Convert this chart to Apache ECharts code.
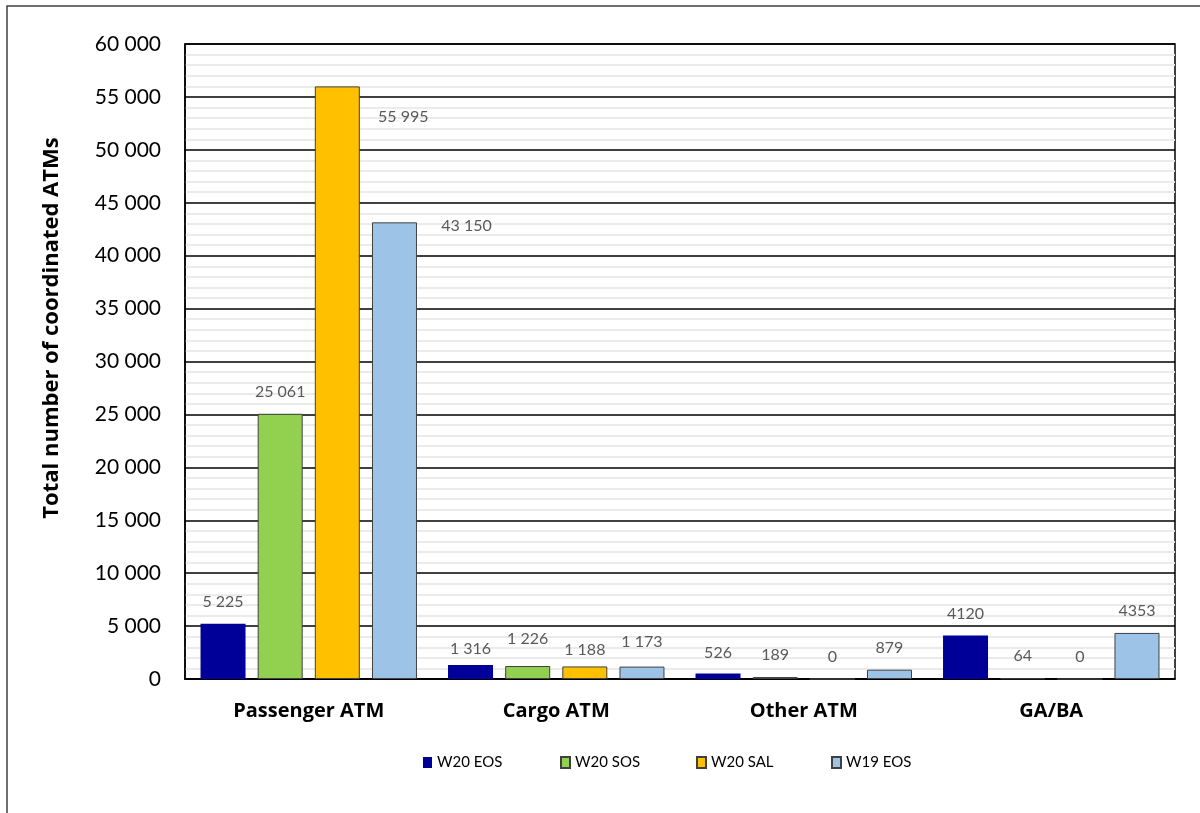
<!DOCTYPE html>
<html>
<head>
<meta charset="utf-8">
<script src="https://cdn.jsdelivr.net/npm/echarts@6/dist/echarts.min.js"></script>
<style>
  html, body { margin: 0; padding: 0; background: #fff; }
  #chart { width: 1200px; height: 813px; }
</style>
</head>
<body>
<div id="chart"></div>
<script>
// Coordinated air traffic movements per traffic type
const categories = ['Passenger ATM', 'Cargo ATM', 'Other ATM', 'GA/BA'];
const seriesNames = ['W20 EOS', 'W20 SOS', 'W20 SAL', 'W19 EOS'];
const w20Eos = [5225, 1316, 526, 4120];
const w20Sos = [25061, 1226, 189, 64];
const w20Sal = [55995, 1188, 0, 0];
const w19Eos = [43150, 1173, 879, 4353];
const yTicks = { min: 0, max: 60000, interval: 5000 };

// Label nudges [dx, dy] in pixels, per series and category
const labelNudge = [
  [[0, 0], [0, 6], [0, 1], [0, 0]],
  [[0, 0], [0, -5], [0, 0], [0, 0]],
  [[66, 52], [0, 5], [0, 0], [0, 0]],
  [[72, 26], [0, -3], [0, 0], [0, 0]]
];

const colors = ['#000099', '#92D050', '#FFC000', '#9DC3E6'];
const borders = [0, 1, 1, 1];
const FONT = 'Lato, "Noto Sans", sans-serif';
const BOLD_FONT = '"Open Sans", Lato, sans-serif';

function spaced(v) {
  return String(v).replace(/\B(?=(\d{3})+(?!\d))/g, ' ');
}

const values = [w20Eos, w20Sos, w20Sal, w19Eos];

const series = values.map((arr, s) => ({
  name: seriesNames[s],
  type: 'bar',
  barWidth: 45,
  barGap: '27%',
  itemStyle: {
    color: colors[s],
    borderColor: '#404040',
    borderWidth: borders[s]
  },
  label: {
    show: true,
    position: 'top',
    distance: 14,
    color: '#595959',
    fontFamily: FONT,
    fontSize: 16,
    formatter: p => (p.dataIndex === 3 ? String(p.value) : spaced(p.value))
  },
  data: arr.map((v, i) => ({ value: v, label: { offset: labelNudge[s][i] } }))
}));

const legendLeft = [423, 560, 696, 831];
const legends = seriesNames.map((n, i) => ({
  data: [n],
  left: legendLeft[i],
  top: 755,
  padding: 0,
  icon: 'rect',
  itemWidth: 9,
  itemHeight: 11,
  selectedMode: false,
  textStyle: { fontFamily: FONT, fontSize: 15, color: '#000' }
}));

const chart = echarts.init(document.getElementById('chart'), null, { renderer: 'canvas' });
chart.setOption({
  backgroundColor: '#fff',
  animation: false,
  grid: {
    left: 185, right: 25, top: 44, bottom: 134,
    show: true, borderColor: '#000', borderWidth: 1.5, backgroundColor: 'transparent'
  },
  legend: legends,
  xAxis: {
    type: 'category',
    data: categories,
    axisTick: { show: false },
    axisLine: { lineStyle: { color: '#000', width: 1.5 } },
    axisLabel: {
      margin: 22,
      color: '#000',
      fontFamily: BOLD_FONT,
      fontWeight: 'bold',
      fontSize: 20
    }
  },
  yAxis: {
    type: 'value',
    min: yTicks.min,
    max: yTicks.max,
    interval: yTicks.interval,
    axisLine: { show: true, lineStyle: { color: '#000', width: 1.5 } },
    axisTick: { show: false },
    axisLabel: {
      margin: 24,
      color: '#000',
      fontFamily: FONT,
      fontSize: 21,
      formatter: v => spaced(v)
    },
    splitLine: { lineStyle: { color: '#000', width: 1.5 } },
    minorTick: { show: false, splitNumber: 5 },
    minorSplitLine: { show: true, lineStyle: { color: '#ebebeb', width: 2 } }
  },
  series: series,
  graphic: [
    {
      type: 'text',
      x: 52, y: 328,
      rotation: Math.PI / 2,
      style: {
        text: 'Total number of coordinated ATMs',
        fontFamily: BOLD_FONT,
        fontWeight: 'bold',
        fontSize: 22,
        fill: '#000',
        textAlign: 'center',
        textVerticalAlign: 'middle'
      }
    },
    {
      type: 'polyline',
      shape: { points: [[7, 813], [7, 6], [1200, 6]] },
      style: { stroke: '#404040', lineWidth: 1.5, fill: null }
    }
  ]
});
</script>
</body>
</html>
